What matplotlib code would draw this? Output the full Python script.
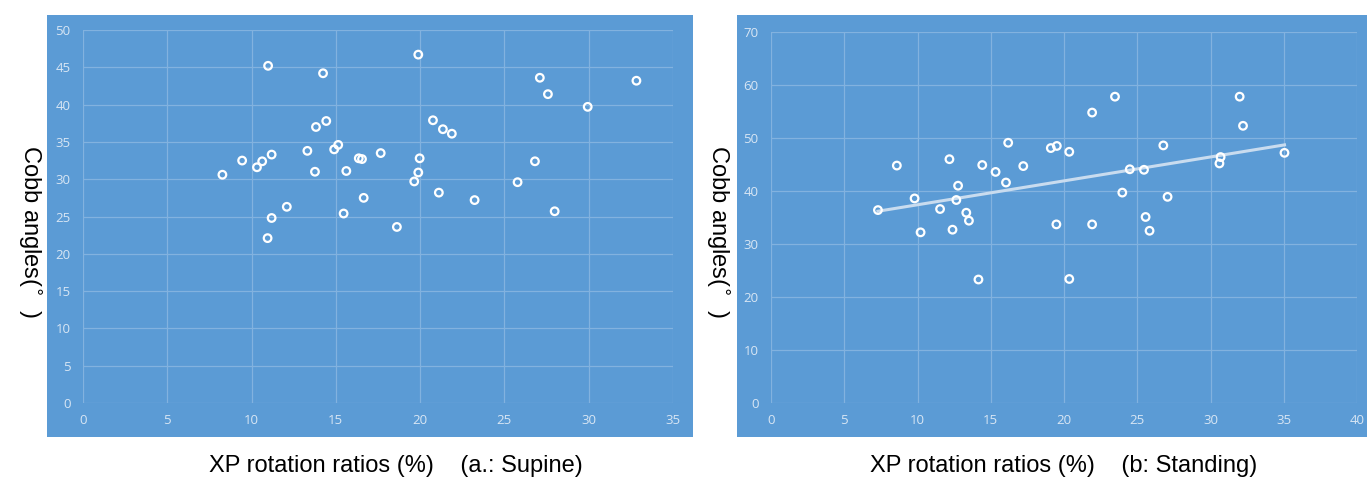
import matplotlib
matplotlib.use('Agg')
import matplotlib.pyplot as plt
from matplotlib.patches import Rectangle
import numpy as np

# (a) supine
sup_x = [8.27, 9.44, 10.32, 10.63, 11.19, 10.98, 10.95, 11.19, 12.09, 13.31,
         13.76, 13.82, 14.43, 14.24, 14.90, 15.14, 15.62, 15.46, 16.36, 16.55,
         16.65, 17.66, 18.62, 19.65, 19.89, 19.97, 19.89, 20.76, 21.35, 21.88,
         21.11, 23.23, 25.78, 26.81, 27.10, 27.58, 27.98, 29.94, 32.83]
sup_y = [30.6, 32.5, 31.6, 32.4, 33.3, 45.2, 22.1, 24.8, 26.3, 33.8,
         31.0, 37.0, 37.8, 44.2, 34.0, 34.6, 31.1, 25.4, 32.8, 32.7,
         27.5, 33.5, 23.6, 29.7, 30.9, 32.8, 46.7, 37.9, 36.7, 36.1,
         28.2, 27.2, 29.6, 32.4, 43.6, 41.4, 25.7, 39.7, 43.2]

# (b) standing
sta_x = [7.30, 8.59, 9.80, 10.21, 11.54, 12.18, 12.39, 12.77, 12.65, 13.33,
         13.51, 14.16, 14.42, 15.33, 16.04, 16.19, 17.22, 19.10, 19.51, 19.48,
         20.36, 20.36, 21.92, 21.92, 23.48, 23.98, 24.49, 25.46, 25.57, 25.84,
         26.78, 27.07, 30.61, 30.69, 31.99, 32.22, 35.05]
sta_y = [36.4, 44.8, 38.6, 32.2, 36.6, 46.0, 32.7, 41.0, 38.3, 35.9,
         34.4, 23.3, 44.9, 43.6, 41.6, 49.1, 44.7, 48.1, 48.5, 33.7,
         47.4, 23.4, 54.8, 33.7, 57.8, 39.7, 44.1, 44.0, 35.1, 32.5,
         48.6, 38.9, 45.2, 46.4, 57.8, 52.3, 47.2]

W, H = 1367, 482
blue = '#5b9bd5'
grid_c = '#82b2df'
tick_c = '#d8e6f4'

fig = plt.figure(figsize=(W / 100, H / 100), dpi=100)

def px_rect(x0, y0, x1, y1):
    return [x0 / W, 1 - y1 / H, (x1 - x0) / W, (y1 - y0) / H]

# chart area backgrounds
for x0, x1 in [(47, 693), (737, 1367)]:
    r = px_rect(x0, 15, x1, 437)
    fig.patches.append(Rectangle((r[0], r[1]), r[2], r[3], transform=fig.transFigure,
                                 facecolor=blue, edgecolor='none', zorder=-5))

def style(ax, xmax, ymax, xstep, ystep):
    ax.set_facecolor(blue)
    ax.set_xlim(0, xmax)
    ax.set_ylim(0, ymax)
    ax.set_xticks(np.arange(0, xmax + 1, xstep))
    ax.set_yticks(np.arange(0, ymax + 1, ystep))
    ax.grid(True, color=grid_c, linewidth=0.9)
    ax.set_axisbelow(True)
    for s in ax.spines.values():
        s.set_visible(False)
    ax.tick_params(axis='y', length=0, colors=tick_c, labelsize=9.5, pad=9)
    ax.tick_params(axis='x', length=0, colors=tick_c, labelsize=9.5, pad=8)
    for lab in ax.get_xticklabels() + ax.get_yticklabels():
        lab.set_family('Open Sans')

ax1 = fig.add_axes(px_rect(83, 30, 673, 403))
style(ax1, 35, 50, 5, 5)
ax1.scatter(sup_x, sup_y, s=30, facecolors='none', edgecolors='white', linewidths=1.6, zorder=3)

ax2 = fig.add_axes(px_rect(771, 32, 1357, 403))
style(ax2, 40, 70, 5, 10)
ax2.scatter(sta_x, sta_y, s=30, facecolors='none', edgecolors='white', linewidths=1.6, zorder=3)
k, b = np.polyfit(sta_x, sta_y, 1)
xl = np.array([min(sta_x), max(sta_x)])
ax2.plot(xl, k * xl + b, color='#c9dcef', linewidth=2.2, zorder=2)

lab_font = dict(family='Liberation Sans', fontsize=17, color='black')
ylab = 'Cobb angles($^{\\circ}$  )'
fig.text(30 / W, 1 - 232 / H, ylab, rotation=-90, ha='center', va='center', **lab_font)
fig.text(718 / W, 1 - 232 / H, ylab, rotation=-90, ha='center', va='center', **lab_font)
fig.text(396 / W, 1 - 466 / H, 'XP rotation ratios (%)    (a.: Supine)', ha='center', va='center', **lab_font)
fig.text(1064 / W, 1 - 466 / H, 'XP rotation ratios (%)    (b: Standing)', ha='center', va='center', **lab_font)

fig.savefig('out.png', dpi=100)
